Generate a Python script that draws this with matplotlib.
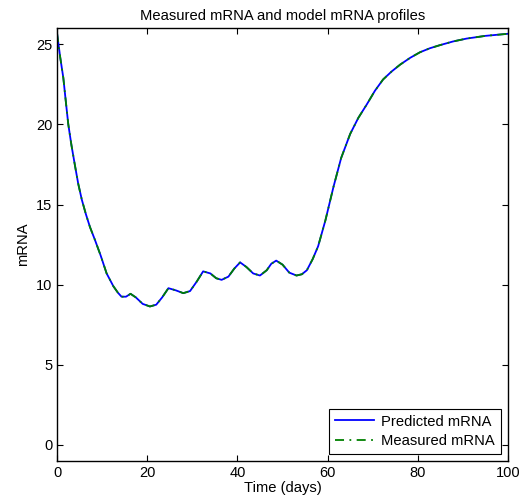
import matplotlib
matplotlib.use("Agg")
import matplotlib.pyplot as plt

plt.rcParams["font.family"] = ["Liberation Sans", "DejaVu Sans"]

# values
time_days = [0, 0.7, 1.4, 2.0, 2.5, 3.2, 4.0, 4.7, 5.5, 6.4, 7.3, 8.4, 9.7, 11.0,
             12.5, 13.5, 14.3, 15.3, 16.3, 17.5, 19.0, 20.6, 22.0, 23.3, 24.7,
             26.3, 28.0, 29.5, 31.0, 32.4, 34.0, 35.3, 36.5, 38.0, 39.3, 40.6,
             42.0, 43.5, 45.0, 46.5, 47.5, 48.6, 50.0, 51.5, 53.1, 54.3, 55.4,
             56.7, 57.9, 59.5, 61.3, 63.0, 65.0, 66.8, 68.7, 70.5, 72.3, 74.2,
             76.1, 78.3, 80.5, 82.7, 84.9, 87.8, 90.8, 95.0, 100]
mrna = [25.7, 24.2, 22.9, 21.3, 20.0, 18.7, 17.4, 16.3, 15.3, 14.4, 13.6, 12.8,
        11.8, 10.7, 9.9, 9.5, 9.25, 9.25, 9.43, 9.2, 8.8, 8.64, 8.75, 9.2, 9.78,
        9.65, 9.47, 9.6, 10.2, 10.83, 10.7, 10.4, 10.3, 10.5, 11.0, 11.39,
        11.1, 10.7, 10.57, 10.9, 11.3, 11.5, 11.25, 10.75, 10.57, 10.65, 10.9,
        11.6, 12.4, 14.0, 16.1, 17.9, 19.4, 20.4, 21.25, 22.1, 22.8, 23.3,
        23.73, 24.15, 24.5, 24.75, 24.94, 25.17, 25.35, 25.52, 25.65]
predicted = mrna
measured = mrna

fig = plt.figure(figsize=(5.24, 5.03), dpi=100)
ax = fig.add_axes([0.1088, 0.0835, 0.8607, 0.8605])

ax.plot(time_days, predicted, color=(0, 0, 1), lw=1.3, label="Predicted mRNA")
ax.plot(time_days, measured, color=(0, 0.5, 0), lw=1.3, ls=(0, (5, 3, 1, 3)),
        label="Measured mRNA")

ax.set_xlim(0, 100)
ax.set_ylim(-1, 26)
ax.set_xticks([0, 20, 40, 60, 80, 100])
ax.set_yticks([0, 5, 10, 15, 20, 25])
ax.tick_params(direction="in", top=True, right=True, labelsize=10.5, length=4)
for s in ax.spines.values():
    s.set_linewidth(1.0)

ax.set_title("Measured mRNA and model mRNA profiles", fontsize=10.6)
ax.set_xlabel("Time (days)", fontsize=10.6, labelpad=1)
ax.set_ylabel("mRNA", fontsize=10.6)

leg = ax.legend(loc="lower right", fontsize=10.6, fancybox=False, framealpha=1,
                borderaxespad=0.5, handlelength=2.6, handletextpad=0.5,
                borderpad=0.4, labelspacing=0.35)
leg.get_frame().set_edgecolor("black")
leg.get_frame().set_linewidth(0.8)

plt.savefig("out.png", dpi=100)
